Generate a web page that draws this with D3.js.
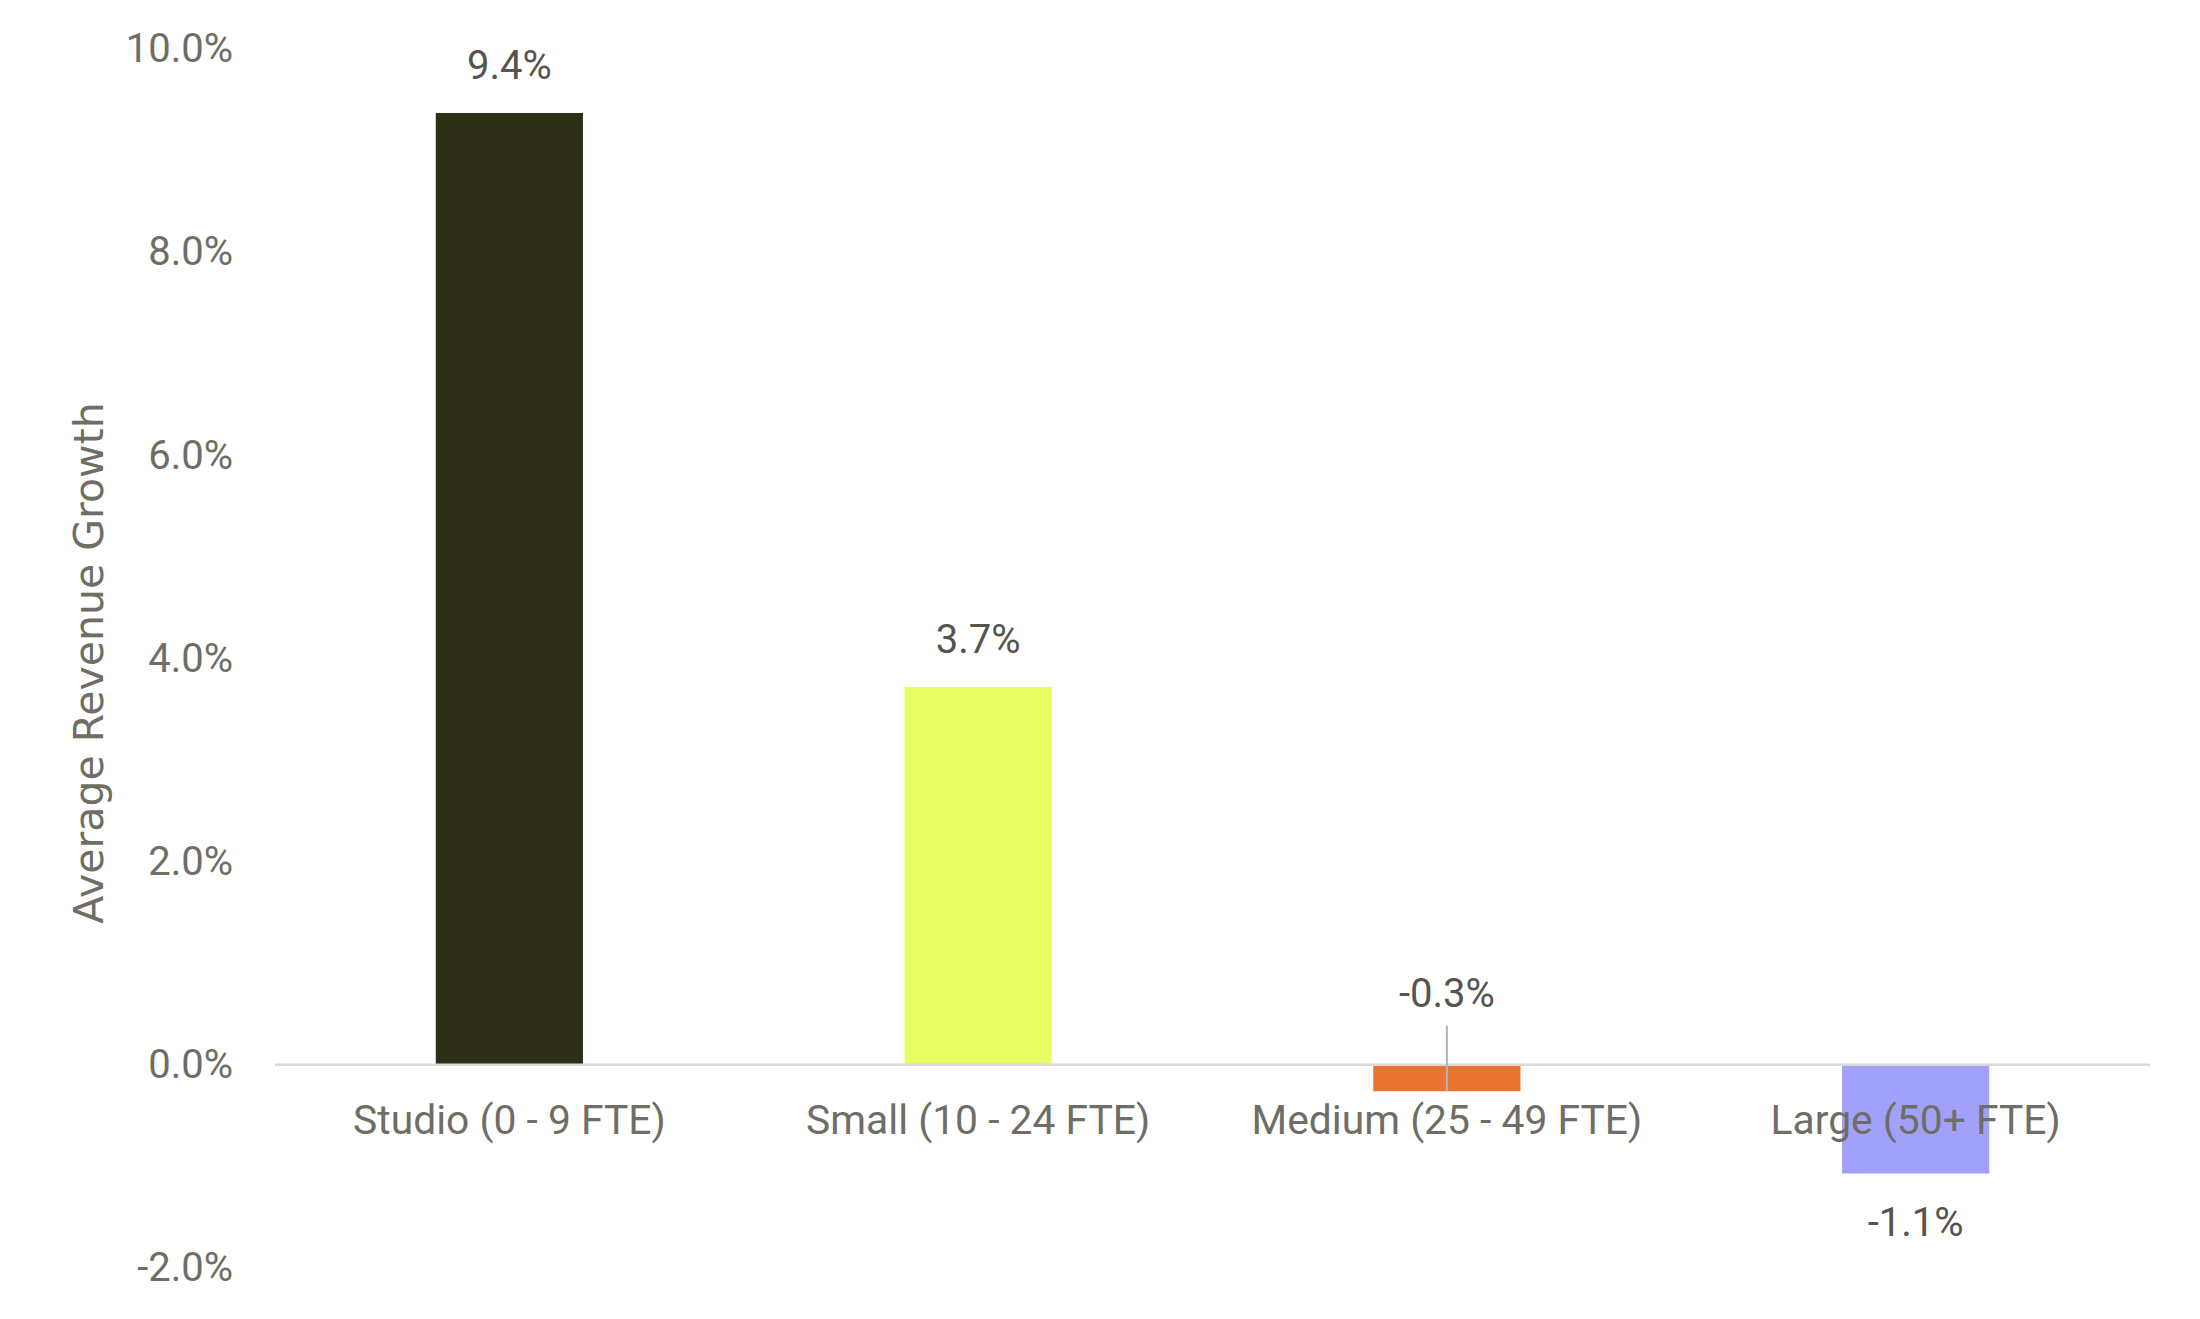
<!DOCTYPE html>
<html>
<head>
<meta charset="utf-8">
<script src="https://cdn.jsdelivr.net/npm/d3@7"></script>
<style>
  body { margin: 0; background: #fff; }
  text { font-family: Roboto, "Liberation Sans", sans-serif; }
</style>
</head>
<body>
<script>
const width = 2200;
const height = 1319;

// data
const categories = ["Studio (0 - 9 FTE)", "Small (10 - 24 FTE)", "Medium (25 - 49 FTE)", "Large (50+ FTE)"];
const growth = [9.37, 3.72, -0.26, -1.07];
const barColors = ["#2d3016", "#e8fe62", "#e97432", "#a1a1fc"];
const yTicks = [-2, 0, 2, 4, 6, 8, 10];
const yTitle = "Average Revenue Growth";

const svg = d3.select("body")
  .append("svg")
  .attr("width", width)
  .attr("height", height);

const x = d3.scaleBand()
  .domain(categories)
  .range([275, 2150])
  .paddingInner(0.686)
  .paddingOuter(0.343);

const y = d3.scaleLinear()
  .domain([-2, 10])
  .range([1268, 49]);

// plain hyphen for negatives, like the original
const fmt = d3.formatLocale({ decimal: ".", thousands: ",", grouping: [3], currency: ["", ""], minus: "-" }).format(".1f");

// y tick labels (no axis line, no ticks)
const yAxis = svg.append("g")
  .attr("transform", "translate(233,0)")
  .call(d3.axisLeft(y).tickValues(yTicks).tickSize(0).tickPadding(0).tickFormat(d => fmt(d) + "%"));
yAxis.select(".domain").remove();
yAxis.selectAll("text")
  .style("font-family", "Roboto, sans-serif")
  .style("font-size", "40px")
  .attr("fill", "#6e6e66");

// axis title
svg.append("text")
  .attr("transform", "translate(89,663) rotate(-90)")
  .attr("text-anchor", "middle")
  .attr("dy", "0.35em")
  .style("font-family", "'DejaVu Sans', sans-serif")
  .style("font-size", "41px")
  .attr("fill", "#6e6e66")
  .text(yTitle);

const rows = categories.map((c, i) => ({ cat: c, v: growth[i], color: barColors[i] }));

// bars
svg.selectAll("rect.bar")
  .data(rows)
  .join("rect")
  .attr("class", "bar")
  .attr("x", d => x(d.cat))
  .attr("width", x.bandwidth())
  .attr("y", d => Math.min(y(d.v), y(0)))
  .attr("height", d => Math.abs(y(d.v) - y(0)))
  .attr("fill", d => d.color);

// zero line
svg.append("line")
  .attr("x1", x.range()[0])
  .attr("x2", x.range()[1])
  .attr("y1", y(0))
  .attr("y2", y(0))
  .attr("stroke", "#d9d9d5")
  .attr("stroke-width", 2.5);

// category labels, sitting just under the zero line
svg.selectAll("text.cat")
  .data(categories)
  .join("text")
  .attr("class", "cat")
  .attr("x", d => x(d) + x.bandwidth() / 2)
  .attr("y", y(0) + 55)
  .attr("dy", "0.35em")
  .attr("text-anchor", "middle")
  .style("font-size", "40.8px")
  .attr("fill", "#6e6e66")
  .text(d => d);

// data labels; short bars get lifted above the axis with a leader line
const short = d => Math.abs(y(d.v) - y(0)) < 40;
const labelY = d => {
  if (short(d)) return y(0) - 72;
  return d.v >= 0 ? y(d.v) - 48 : y(d.v) + 48;
};

svg.selectAll("line.leader")
  .data(rows.filter(short))
  .join("line")
  .attr("class", "leader")
  .attr("x1", d => x(d.cat) + x.bandwidth() / 2)
  .attr("x2", d => x(d.cat) + x.bandwidth() / 2)
  .attr("y1", d => labelY(d) + 33)
  .attr("y2", d => y(d.v))
  .attr("stroke", "#b3b3ad")
  .attr("stroke-width", 2);

svg.selectAll("text.val")
  .data(rows)
  .join("text")
  .attr("class", "val")
  .attr("x", d => x(d.cat) + x.bandwidth() / 2)
  .attr("y", labelY)
  .attr("dy", "0.35em")
  .attr("text-anchor", "middle")
  .style("font-size", "40px")
  .attr("fill", "#55554e")
  .text(d => fmt(d.v) + "%");
</script>
</body>
</html>
